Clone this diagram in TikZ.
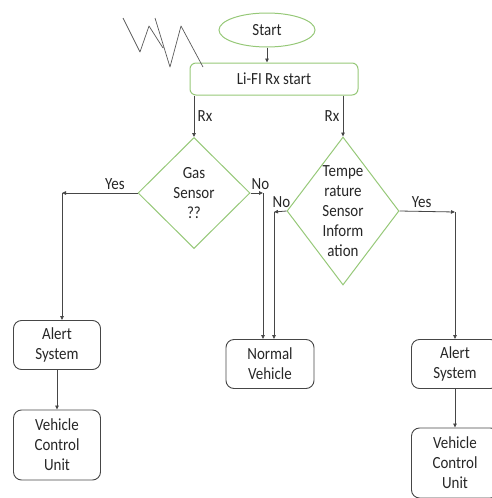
\documentclass[tikz,border=0pt]{standalone}
\usepackage{fontspec}
\setmainfont{Carlito}[FakeStretch=0.88]
\usetikzlibrary{arrows.meta}
\usetikzlibrary{shapes.geometric}
\definecolor{boxgreen}{RGB}{150,200,120}
\definecolor{linegray}{RGB}{70,70,70}
\begin{document}
\begin{tikzpicture}[x=1pt, y=-1pt,
		every node/.style={font=\fontsize{17}{20}\selectfont, text=black!85},
		greenbox/.style={draw=boxgreen, line width=1pt, rounded corners=6pt, minimum width=168pt, minimum height=32pt, inner sep=0pt},
		decision/.style={diamond, draw=boxgreen, line width=1pt, inner sep=0pt, minimum width=112pt},
		graybox/.style={draw=linegray, line width=0.9pt, rounded corners=8pt, minimum width=87pt, align=center, inner sep=0pt},
		arr/.style={draw=linegray, line width=0.8pt, -{Triangle[length=4pt, width=3.5pt]}}]
		\useasboundingbox (0,0) rectangle (492,498);
		\node[ellipse, draw=boxgreen, line width=1pt, minimum width=96pt, minimum height=34pt, inner sep=0pt] at (267,30) (start) {Start};
		\node[greenbox] at (274,79) (lifi) {Li-FI Rx start};
		\node[decision, minimum height=111pt, label={[align=center]center:Gas\\Sensor\\??}] at (194,193) (gas) {};
		\node[decision, minimum height=148pt, label={[align=center]center:Tempe\\rature\\Sensor\\Inform\\ation}] at (343,211) (temp) {};
		\node[graybox, minimum height=49pt] at (57,345) (alertL) {Alert\\System};
		\node[graybox, minimum height=70pt] at (57,445) (vcuL) {Vehicle\\Control\\Unit};
		\node[graybox, minimum width=88pt, minimum height=49pt] at (270,364) (normal) {Normal\\Vehicle};
		\node[graybox, minimum height=49pt] at (455,364) (alertR) {Alert\\System};
		\node[graybox, minimum height=70pt] at (455,463) (vcuR) {Vehicle\\Control\\Unit};
		\coordinate (yesgas) at (62,193);
		\coordinate (nogas) at (263,193);
		\coordinate (notemp) at (274,212);
		\coordinate (yestemp) at (455,212);
		% scribble
		\draw[black!65, line width=0.7pt, line join=round] (123,18) -- (140,52) -- (149,26) -- (163,48) (155,18) -- (170,67) -- (181,26) -- (203,67);
		\draw[arr] (start.south) -- (start.south |- lifi.north);
		\draw[arr] (gas.north |- lifi.south) -- node[right]{Rx} (gas.north);
		\draw[arr] (temp.north |- lifi.south) -- node[left]{Rx} (temp.north);
		\draw[arr] (gas.west) -- node[pos=0.3, above]{Yes} (yesgas);
		\draw[arr] (yesgas) -- (yesgas |- alertL.north);
		\draw[arr] (gas.east) -- node[pos=0.8, above]{No} (nogas);
		\draw[arr] (nogas) -- (nogas |- normal.north);
		\draw[arr] (temp.west) -- node[pos=0.4, above]{No} (notemp);
		\draw[arr] (notemp) -- (notemp |- normal.north);
		\draw[arr] (temp.east) -- node[pos=0.4, above]{Yes} (yestemp);
		\draw[arr] (yestemp) -- (yestemp |- alertR.north);
		\draw[arr] (alertL.south) -- (alertL.south |- vcuL.north);
		\draw[arr] (alertR.south) -- (alertR.south |- vcuR.north);
	\end{tikzpicture}
\end{document}
